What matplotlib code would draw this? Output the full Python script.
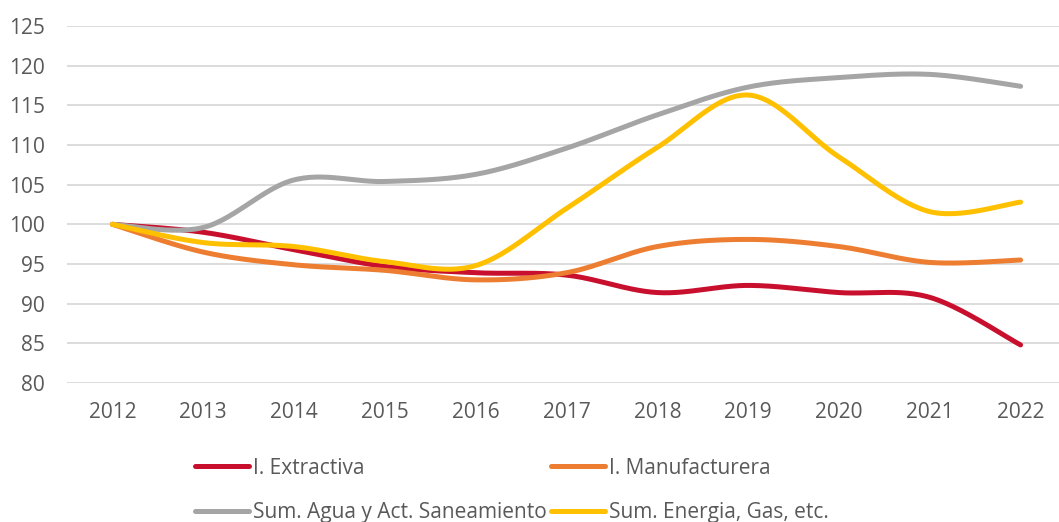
import numpy as np
import matplotlib.pyplot as plt

plt.rcParams['font.family'] = ['Open Sans', 'DejaVu Sans']

# Data (index, 2012 = 100)
years = ["2012", "2013", "2014", "2015", "2016", "2017", "2018", "2019", "2020", "2021", "2022"]
extractiva = [100, 99.0, 96.8, 94.7, 93.9, 93.6, 91.4, 92.3, 91.4, 90.8, 84.8]
manufacturera = [100, 96.5, 94.9, 94.2, 93.0, 93.9, 97.2, 98.1, 97.2, 95.2, 95.5]
agua = [100, 99.6, 105.6, 105.4, 106.3, 109.6, 113.8, 117.3, 118.5, 118.9, 117.4]
energia = [100, 97.7, 97.2, 95.3, 94.8, 102.0, 109.7, 116.3, 108.5, 101.6, 102.8]

labels = ["I. Extractiva", "I. Manufacturera",
          "Sum. Agua y Act. Saneamiento", "Sum. Energia, Gas, etc."]
colors = ["#C8102E", "#ED7D31", "#A5A5A5", "#FFC000"]


def smooth(xs, ys, n=30):
    # Excel-style smoothed line: cubic Bezier through each point
    P = np.column_stack([xs, ys]).astype(float)
    P = np.vstack([P[0], P, P[-1]])
    out = []
    t = np.linspace(0, 1, n)[:, None]
    for i in range(1, len(P) - 2):
        p0, p3 = P[i], P[i + 1]
        p1 = p0 + (P[i + 1] - P[i - 1]) / 6
        p2 = p3 - (P[i + 2] - P[i]) / 6
        seg = ((1 - t) ** 3) * p0 + 3 * ((1 - t) ** 2) * t * p1 + 3 * (1 - t) * t ** 2 * p2 + t ** 3 * p3
        out.append(seg if i == 1 else seg[1:])
    out = np.vstack(out)
    return out[:, 0], out[:, 1]


fig = plt.figure(figsize=(10.59, 5.22), dpi=100)
ax = fig.add_axes([67 / 1059, 1 - 383 / 522, 999 / 1059, 357 / 522])

x = np.arange(len(years))
handles = []
for ys, lab, col in zip([extractiva, manufacturera, agua, energia], labels, colors):
    sx, sy = smooth(x, ys)
    h, = ax.plot(sx, sy, color=col, lw=3.6, solid_capstyle="round", label=lab)
    handles.append(h)

ax.set_xlim(-0.5, len(years) - 0.5)
ax.set_ylim(80, 125)
ax.set_yticks(range(80, 126, 5))
ax.set_xticks(x)
ax.set_xticklabels(years)
ax.grid(axis="y", color="#D9D9D9", lw=1.3)
ax.set_axisbelow(True)
for s in ax.spines.values():
    s.set_visible(False)
ax.tick_params(length=0, labelsize=15, colors="#595959")
ax.tick_params(axis="y", pad=16)
ax.tick_params(axis="x", pad=14)

order = [0, 2, 1, 3]
fig.legend([handles[i] for i in order], [labels[i] for i in order],
           loc="center", bbox_to_anchor=(512 / 1059, 1 - 490.5 / 522), ncol=2,
           frameon=False, fontsize=15, labelcolor="#595959",
           handlelength=2.6, handletextpad=0.2, columnspacing=0.2,
           labelspacing=1.15, borderpad=0)

fig.savefig("out.png", dpi=100)
